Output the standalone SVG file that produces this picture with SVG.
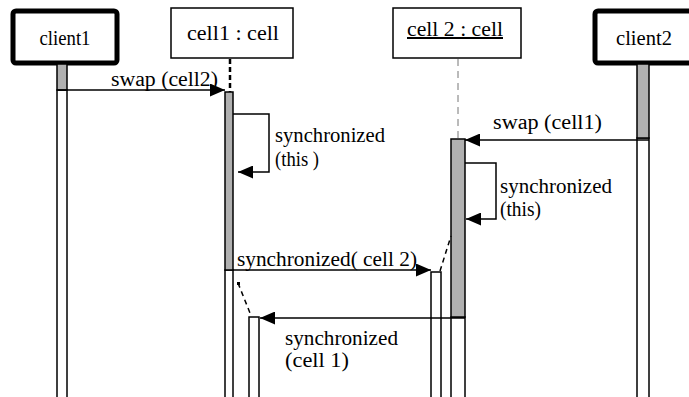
<svg xmlns="http://www.w3.org/2000/svg" width="689" height="397" viewBox="0 0 689 397">
<defs>
<style>
text{font-family:'Liberation Serif','Times New Roman',serif;font-size:20px;fill:#000}
.actor{fill:#fff;stroke:#000;stroke-width:5}
.obj{fill:#fff;stroke:#000;stroke-width:1.5}
.act{fill:#b0b0b0;stroke:#000;stroke-width:1.5}
.life{fill:#fff;stroke:#000;stroke-width:1.5}
.msg{fill:none;stroke:#000;stroke-width:1.5}
.dash{fill:none;stroke:#000;stroke-width:1.5;stroke-dasharray:5 4}
</style>
<marker id="ah" viewBox="0 0 15 13" refX="15" refY="6.5" markerWidth="15" markerHeight="13" markerUnits="userSpaceOnUse" orient="auto">
<path d="M0,0 L15,6.5 L0,13 Z" fill="#000"/>
</marker>
</defs>
<rect width="689" height="397" fill="#fff"/>

<g id="client1">
<rect class="actor" x="13" y="11" width="104" height="52" rx="3"/>
<text x="65" y="45" text-anchor="middle" textLength="51" lengthAdjust="spacingAndGlyphs">client1</text>
<rect class="life" x="57" y="90" width="10" height="320"/>
<rect class="act" x="57" y="64" width="10" height="26"/>
</g>

<g id="cell1">
<rect class="obj" x="171" y="8" width="122" height="50"/>
<text x="187" y="40" textLength="92" lengthAdjust="spacingAndGlyphs">cell1 : cell</text>
<line x1="230" y1="59" x2="230" y2="92" stroke="#000" stroke-width="2.5" stroke-dasharray="5 3"/>
<rect class="life" x="225" y="270" width="8" height="140"/>
<rect class="act" x="225" y="92" width="8" height="178"/>
<rect class="life" x="249" y="317" width="10" height="90"/>
</g>

<g id="cell2">
<rect class="obj" x="393" y="8" width="128" height="50"/>
<text x="407" y="36" textLength="96" lengthAdjust="spacingAndGlyphs" text-decoration="underline">cell 2 : cell</text>
<line x1="458" y1="59" x2="458" y2="139" stroke="#777" stroke-width="1" stroke-dasharray="7 5"/>
<rect class="life" x="431" y="272" width="10" height="140"/>
<rect class="life" x="451" y="317" width="14" height="100"/>
<rect class="act" x="451" y="139" width="14" height="178"/>
</g>

<g id="client2">
<rect class="actor" x="595" y="11" width="110" height="52" rx="3"/>
<text x="644" y="45" text-anchor="middle" textLength="56" lengthAdjust="spacingAndGlyphs">client2</text>
<rect class="life" x="637" y="138" width="12" height="270"/>
<rect class="act" x="637" y="64" width="12" height="74"/>
</g>

<g id="connectors">
<line class="msg" x1="57" y1="90" x2="225" y2="90" marker-end="url(#ah)"/>
<text x="111" y="86" textLength="107" lengthAdjust="spacingAndGlyphs">swap (cell2)</text>

<polyline class="msg" points="233,114 269,114 269,172 238,172" marker-end="url(#ah)"/>
<text x="275" y="142" textLength="110" lengthAdjust="spacingAndGlyphs">synchronized</text>
<text x="275" y="166" textLength="44" lengthAdjust="spacingAndGlyphs">(this )</text>

<line class="msg" x1="649" y1="140" x2="465" y2="140" marker-end="url(#ah)"/>
<text x="493" y="129" textLength="109" lengthAdjust="spacingAndGlyphs">swap (cell1)</text>

<polyline class="msg" points="465,163 496,163 496,219 466,219" marker-end="url(#ah)"/>
<text x="500" y="193" textLength="112" lengthAdjust="spacingAndGlyphs">synchronized</text>
<text x="500" y="216" textLength="41" lengthAdjust="spacingAndGlyphs">(this)</text>

<line class="msg" x1="233" y1="270" x2="431" y2="270" marker-end="url(#ah)"/>
<text x="237" y="266" textLength="180" lengthAdjust="spacingAndGlyphs">synchronized( cell 2)</text>
<line class="dash" x1="440" y1="271" x2="451" y2="236"/>

<line class="msg" x1="465" y1="318" x2="260" y2="318" marker-end="url(#ah)"/>
<line class="dash" x1="238" y1="283" x2="250" y2="313"/>
<rect x="237" y="282" width="3" height="3" fill="#000"/>
<text x="285" y="345" textLength="113" lengthAdjust="spacingAndGlyphs">synchronized</text>
<text x="285" y="367" textLength="64" lengthAdjust="spacingAndGlyphs">(cell 1)</text>
</g>
</svg>
